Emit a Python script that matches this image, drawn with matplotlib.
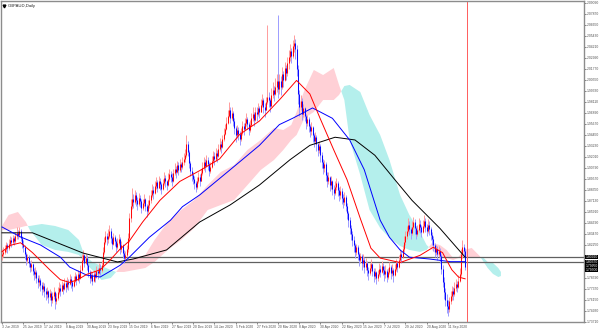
import numpy as np
import matplotlib
matplotlib.use("Agg")
from matplotlib import pyplot as plt
from matplotlib import transforms

plt.rcParams['font.family'] = ['Liberation Sans', 'DejaVu Sans']

chart_title = "GBPAUD,Daily"

# daily bars, bar 0 = 3 Jun 2019
first_open = 1.810
closes = [
    1.812, 1.815, 1.818, 1.822, 1.819, 1.824, 1.828, 1.826, 1.830, 1.827, 1.832, 1.836, 1.834, 1.838, 1.830, 1.824,
    1.820, 1.812, 1.806, 1.809, 1.803, 1.798, 1.801, 1.794, 1.790, 1.793, 1.786, 1.781, 1.784, 1.778, 1.774, 1.777,
    1.772, 1.768, 1.771, 1.765, 1.769, 1.762, 1.766, 1.770, 1.760, 1.764, 1.770, 1.775, 1.772, 1.778, 1.774, 1.780,
    1.776, 1.782, 1.779, 1.785, 1.781, 1.777, 1.783, 1.788, 1.784, 1.790, 1.786, 1.795, 1.806, 1.811, 1.803, 1.808,
    1.800, 1.792, 1.786, 1.789, 1.783, 1.790, 1.787, 1.794, 1.791, 1.797, 1.795, 1.800, 1.815, 1.826, 1.832, 1.829,
    1.833, 1.838, 1.830, 1.824, 1.831, 1.827, 1.820, 1.825, 1.829, 1.818, 1.822, 1.814, 1.808, 1.811, 1.818, 1.830,
    1.852, 1.866, 1.874, 1.870, 1.878, 1.872, 1.868, 1.875, 1.871, 1.864, 1.869, 1.873, 1.866, 1.860, 1.867, 1.872,
    1.878, 1.884, 1.880, 1.888, 1.892, 1.886, 1.894, 1.890, 1.885, 1.891, 1.897, 1.893, 1.889, 1.896, 1.901, 1.898,
    1.894, 1.902, 1.907, 1.903, 1.911, 1.906, 1.912, 1.909, 1.915, 1.918, 1.922, 1.934, 1.926, 1.913, 1.905, 1.900,
    1.896, 1.891, 1.887, 1.893, 1.898, 1.894, 1.902, 1.908, 1.914, 1.910, 1.917, 1.912, 1.905, 1.909, 1.916, 1.921,
    1.918, 1.925, 1.921, 1.929, 1.935, 1.931, 1.940, 1.946, 1.951, 1.958, 1.966, 1.972, 1.963, 1.969, 1.960, 1.952,
    1.944, 1.950, 1.946, 1.940, 1.947, 1.955, 1.951, 1.958, 1.962, 1.957, 1.950, 1.956, 1.963, 1.968, 1.961, 1.970,
    1.968, 1.974, 1.970, 1.978, 1.983, 1.976, 1.972, 1.981, 1.987, 1.983, 1.977, 1.989, 1.994, 1.990, 1.998, 2.004,
    1.995, 2.004, 1.998, 2.012, 2.006, 2.019, 2.013, 2.024, 2.031, 2.038, 2.032, 2.043, 2.047, 2.040, 2.018, 1.990,
    1.975, 1.982, 1.968, 1.974, 1.966, 1.958, 1.962, 1.955, 1.949, 1.953, 1.944, 1.938, 1.942, 1.934, 1.928, 1.932,
    1.922, 1.915, 1.908, 1.912, 1.900, 1.894, 1.898, 1.889, 1.893, 1.885, 1.880, 1.887, 1.891, 1.884, 1.878, 1.882,
    1.875, 1.870, 1.876, 1.866, 1.858, 1.850, 1.841, 1.835, 1.828, 1.822, 1.815, 1.820, 1.812, 1.806, 1.810, 1.802,
    1.806, 1.798, 1.803, 1.795, 1.791, 1.797, 1.801, 1.794, 1.788, 1.792, 1.786, 1.790, 1.796, 1.793, 1.799, 1.795,
    1.790, 1.794, 1.787, 1.792, 1.798, 1.791, 1.795, 1.789, 1.796, 1.802, 1.798, 1.806, 1.812, 1.809, 1.818, 1.826,
    1.832, 1.838, 1.845, 1.840, 1.836, 1.843, 1.848, 1.841, 1.835, 1.839, 1.846, 1.842, 1.837, 1.844, 1.849, 1.843,
    1.838, 1.845, 1.840, 1.834, 1.829, 1.822, 1.815, 1.818, 1.812, 1.816, 1.810, 1.796, 1.782, 1.770, 1.762, 1.755,
    1.752, 1.760, 1.766, 1.771, 1.768, 1.775, 1.779, 1.776, 1.783, 1.790, 1.812, 1.820, 1.816, 1.798,
]
highs = [
    1.818, 1.820, 1.823, 1.826, 1.825, 1.829, 1.833, 1.831, 1.834, 1.833, 1.837, 1.842, 1.839, 1.843, 1.840, 1.833,
    1.828, 1.823, 1.815, 1.813, 1.811, 1.805, 1.806, 1.803, 1.797, 1.798, 1.795, 1.789, 1.789, 1.786, 1.781, 1.782,
    1.780, 1.775, 1.776, 1.773, 1.774, 1.771, 1.770, 1.776, 1.772, 1.769, 1.776, 1.781, 1.779, 1.783, 1.780, 1.786,
    1.784, 1.787, 1.785, 1.790, 1.788, 1.784, 1.788, 1.793, 1.790, 1.795, 1.792, 1.800, 1.812, 1.817, 1.812, 1.813,
    1.811, 1.803, 1.795, 1.794, 1.792, 1.795, 1.794, 1.799, 1.797, 1.802, 1.801, 1.806, 1.820, 1.831, 1.838, 1.836,
    1.840, 1.845, 1.841, 1.832, 1.836, 1.834, 1.829, 1.830, 1.835, 1.831, 1.827, 1.824, 1.817, 1.816, 1.823, 1.836,
    1.858, 1.873, 1.886, 1.879, 1.884, 1.881, 1.876, 1.880, 1.878, 1.874, 1.874, 1.879, 1.875, 1.868, 1.872, 1.878,
    1.884, 1.890, 1.888, 1.893, 1.898, 1.895, 1.899, 1.897, 1.892, 1.896, 1.903, 1.900, 1.895, 1.902, 1.907, 1.905,
    1.902, 1.907, 1.913, 1.910, 1.916, 1.914, 1.918, 1.915, 1.920, 1.924, 1.929, 1.945, 1.938, 1.928, 1.916, 1.909,
    1.904, 1.899, 1.894, 1.898, 1.904, 1.901, 1.907, 1.914, 1.920, 1.918, 1.922, 1.920, 1.914, 1.914, 1.921, 1.927,
    1.926, 1.930, 1.928, 1.934, 1.941, 1.938, 1.945, 1.952, 1.957, 1.964, 1.972, 1.981, 1.976, 1.975, 1.971, 1.963,
    1.955, 1.956, 1.953, 1.949, 1.952, 1.960, 1.958, 1.963, 1.969, 1.965, 1.959, 1.961, 1.969, 1.975, 1.970, 1.976,
    1.975, 1.980, 1.977, 1.984, 1.990, 1.986, 1.980, 1.987, 2.066, 1.992, 1.986, 1.997, 2.003, 1.999, 2.008, 2.012,
    2.078, 2.012, 2.010, 2.020, 2.016, 2.026, 2.022, 2.031, 2.039, 2.045, 2.041, 2.050, 2.055, 2.051, 2.044, 2.022,
    1.994, 1.989, 1.985, 1.979, 1.976, 1.968, 1.967, 1.964, 1.957, 1.959, 1.955, 1.947, 1.948, 1.944, 1.937, 1.938,
    1.935, 1.926, 1.918, 1.917, 1.914, 1.903, 1.904, 1.899, 1.899, 1.895, 1.889, 1.893, 1.897, 1.894, 1.887, 1.888,
    1.886, 1.879, 1.881, 1.878, 1.869, 1.860, 1.853, 1.845, 1.838, 1.832, 1.825, 1.824, 1.822, 1.815, 1.814, 1.812,
    1.813, 1.809, 1.808, 1.805, 1.798, 1.802, 1.807, 1.803, 1.797, 1.797, 1.794, 1.795, 1.802, 1.800, 1.805, 1.802,
    1.799, 1.800, 1.796, 1.797, 1.804, 1.800, 1.801, 1.797, 1.801, 1.807, 1.805, 1.811, 1.818, 1.816, 1.823, 1.832,
    1.838, 1.844, 1.852, 1.849, 1.843, 1.849, 1.854, 1.851, 1.844, 1.845, 1.852, 1.850, 1.845, 1.850, 1.856, 1.852,
    1.846, 1.851, 1.849, 1.843, 1.837, 1.833, 1.825, 1.823, 1.821, 1.821, 1.819, 1.813, 1.800, 1.787, 1.775, 1.768,
    1.762, 1.765, 1.772, 1.777, 1.776, 1.781, 1.785, 1.783, 1.789, 1.797, 1.818, 1.828, 1.824, 1.819,
]
lows = [
    1.806, 1.809, 1.812, 1.815, 1.814, 1.817, 1.821, 1.820, 1.824, 1.822, 1.825, 1.829, 1.829, 1.831, 1.827, 1.819,
    1.815, 1.807, 1.800, 1.802, 1.798, 1.792, 1.794, 1.789, 1.784, 1.786, 1.780, 1.775, 1.777, 1.772, 1.767, 1.770,
    1.765, 1.761, 1.764, 1.758, 1.762, 1.755, 1.758, 1.763, 1.752, 1.757, 1.762, 1.768, 1.766, 1.771, 1.768, 1.773,
    1.770, 1.774, 1.773, 1.778, 1.775, 1.771, 1.776, 1.782, 1.778, 1.783, 1.780, 1.785, 1.794, 1.804, 1.798, 1.801,
    1.795, 1.787, 1.780, 1.783, 1.778, 1.782, 1.781, 1.786, 1.785, 1.790, 1.789, 1.793, 1.798, 1.813, 1.824, 1.822,
    1.825, 1.830, 1.825, 1.818, 1.822, 1.821, 1.815, 1.818, 1.822, 1.813, 1.815, 1.808, 1.802, 1.805, 1.809, 1.815,
    1.826, 1.848, 1.862, 1.864, 1.868, 1.866, 1.861, 1.866, 1.865, 1.858, 1.861, 1.866, 1.860, 1.854, 1.858, 1.864,
    1.869, 1.876, 1.874, 1.879, 1.885, 1.881, 1.886, 1.884, 1.879, 1.884, 1.889, 1.887, 1.883, 1.888, 1.894, 1.892,
    1.888, 1.892, 1.900, 1.897, 1.902, 1.900, 1.904, 1.903, 1.907, 1.911, 1.915, 1.920, 1.921, 1.908, 1.899, 1.893,
    1.890, 1.885, 1.881, 1.885, 1.891, 1.888, 1.893, 1.900, 1.906, 1.904, 1.909, 1.906, 1.899, 1.902, 1.908, 1.913,
    1.911, 1.916, 1.915, 1.920, 1.927, 1.925, 1.930, 1.938, 1.944, 1.950, 1.957, 1.964, 1.958, 1.961, 1.955, 1.946,
    1.937, 1.941, 1.939, 1.933, 1.938, 1.945, 1.944, 1.950, 1.954, 1.951, 1.944, 1.948, 1.954, 1.960, 1.955, 1.960,
    1.960, 1.966, 1.963, 1.970, 1.975, 1.969, 1.965, 1.972, 1.979, 1.975, 1.970, 1.978, 1.986, 1.982, 1.989, 1.992,
    1.985, 1.990, 1.989, 1.996, 1.998, 2.004, 2.005, 2.010, 2.018, 2.027, 2.024, 2.030, 2.037, 2.029, 2.010, 1.979,
    1.966, 1.972, 1.961, 1.965, 1.960, 1.951, 1.954, 1.948, 1.942, 1.945, 1.937, 1.931, 1.934, 1.927, 1.921, 1.924,
    1.915, 1.908, 1.901, 1.904, 1.894, 1.887, 1.890, 1.882, 1.885, 1.878, 1.873, 1.878, 1.884, 1.877, 1.871, 1.874,
    1.868, 1.863, 1.867, 1.860, 1.851, 1.843, 1.835, 1.828, 1.821, 1.815, 1.808, 1.811, 1.806, 1.799, 1.802, 1.795,
    1.798, 1.791, 1.795, 1.788, 1.784, 1.789, 1.794, 1.788, 1.781, 1.785, 1.779, 1.783, 1.788, 1.787, 1.791, 1.789,
    1.783, 1.786, 1.781, 1.785, 1.790, 1.785, 1.788, 1.782, 1.788, 1.794, 1.792, 1.797, 1.804, 1.803, 1.808, 1.815,
    1.823, 1.829, 1.836, 1.834, 1.829, 1.834, 1.840, 1.835, 1.829, 1.832, 1.837, 1.836, 1.831, 1.836, 1.841, 1.837,
    1.832, 1.836, 1.834, 1.828, 1.822, 1.816, 1.809, 1.811, 1.806, 1.809, 1.803, 1.790, 1.776, 1.763, 1.755, 1.747,
    1.744, 1.748, 1.757, 1.762, 1.761, 1.766, 1.771, 1.770, 1.775, 1.781, 1.788, 1.808, 1.809, 1.795,
]

# moving averages (bar index, price)
fast_ma_bars = [0, 6, 14, 23, 36, 44, 51, 57, 64, 74, 81, 89, 96, 106, 119, 134, 149, 164, 179, 194,
                210, 222, 232, 240, 250, 260, 270, 278, 285, 300, 315, 325, 332, 339, 344, 349]
fast_ma = [1.815, 1.822, 1.825, 1.814, 1.795, 1.784, 1.781, 1.784, 1.790, 1.795, 1.805, 1.818, 1.827,
           1.848, 1.872, 1.893, 1.905, 1.918, 1.945, 1.960, 1.985, 2.005, 1.990, 1.962, 1.928, 1.895,
           1.852, 1.819, 1.808, 1.803, 1.811, 1.820, 1.814, 1.795, 1.787, 1.785]
mid_ma_bars = [0, 14, 29, 44, 51, 64, 74, 81, 89, 96, 111, 127, 136, 149, 172, 194, 209, 219, 234, 249,
               262, 273, 285, 292, 300, 307, 322, 338, 349]
mid_ma = [1.8425, 1.8314, 1.8225, 1.809, 1.798, 1.789, 1.787, 1.793, 1.800, 1.809, 1.831, 1.850, 1.865,
          1.878, 1.906, 1.933, 1.956, 1.963, 1.9745, 1.963, 1.939, 1.906, 1.850, 1.831, 1.817, 1.809,
          1.807, 1.804, 1.804]
slow_ma_bars = [0, 23, 61, 87, 99, 124, 149, 172, 194, 217, 232, 251, 266, 281, 296, 309, 330, 349]
slow_ma = [1.836, 1.836, 1.8136, 1.8037, 1.807, 1.817, 1.848, 1.867, 1.889, 1.917, 1.933, 1.942, 1.939,
           1.922, 1.895, 1.872, 1.841, 1.809]

# ichimoku cloud edges (bar index, span A, span B)
cloud_bars = [0, 5, 12, 18, 21, 30, 40, 50, 58, 62, 68, 75, 82, 86, 92, 100, 108, 115, 125, 135, 145,
              155, 165, 175, 185, 195, 205, 212, 218, 222, 228, 235, 242, 250, 254, 258, 262, 270, 277,
              285, 292, 300, 307, 315, 320, 324, 330, 335, 340, 344, 348, 354, 360, 363, 366, 370, 374, 376]
span_a = [1.8436, 1.8558, 1.8591, 1.8480, 1.8391, 1.8225, 1.8170, 1.8148, 1.8114, 1.8037, 1.7948, 1.7837,
          1.7859, 1.7926, 1.8037, 1.8081, 1.8114, 1.8281, 1.8480, 1.8613, 1.8724, 1.8890, 1.9035, 1.9112,
          1.9279, 1.9390, 1.9523, 1.9500, 1.9556, 1.9700, 1.9944, 2.0166, 2.0110, 2.0188, 2.0000, 1.9833,
          1.9390, 1.9001, 1.8613, 1.8414, 1.8303, 1.8214, 1.8170, 1.8148, 1.8170, 1.8247, 1.8225, 1.8170,
          1.8081, 1.8092, 1.8170, 1.8192, 1.8103, 1.8037, 1.7970, 1.7904, 1.7870, 1.7881]
span_b = [1.8391, 1.8391, 1.8414, 1.8436, 1.8436, 1.8458, 1.8436, 1.8391, 1.8281, 1.8114, 1.8037, 1.7992,
          1.7948, 1.7926, 1.7926, 1.7948, 1.7970, 1.8037, 1.8170, 1.8281, 1.8414, 1.8613, 1.8669, 1.8724,
          1.8890, 1.9057, 1.9168, 1.9279, 1.9390, 1.9445, 1.9634, 1.9700, 1.9833, 1.9833, 1.9889, 1.9988,
          2.0000, 1.9922, 1.9667, 1.9445, 1.9168, 1.8780, 1.8558, 1.8369, 1.8225, 1.8170, 1.8092, 1.8081,
          1.8059, 1.8081, 1.8081, 1.8092, 1.8092, 1.8081, 1.8037, 1.8026, 1.7970, 1.7926]

level_lines = [1.8092, 1.8037]
price_tags = ["1.80920", "1.80370", "1.79950", "1.79500"]
price_tag_values = [1.8092, 1.8037, 1.7995, 1.7950]
last_bar_marker = 350.5

x_tick_labels = ["3 Jun 2019", "25 Jun 2019", "17 Jul 2019", "8 Aug 2019", "30 Aug 2019", "23 Sep 2019",
                 "15 Oct 2019", "6 Nov 2019", "27 Nov 2019", "20 Dec 2019", "14 Jan 2020", "5 Feb 2020",
                 "27 Feb 2020", "20 Mar 2020", "8 Apr 2020", "30 Apr 2020", "22 May 2020", "15 Jun 2020",
                 "7 Jul 2020", "29 Jul 2020", "20 Aug 2020", "11 Sep 2020"]
# price scale labels (the two that sit under the price tags are hidden, as on the chart)
y_ticks = [2.0909, 2.0787, 2.0665, 2.0543, 2.0421, 2.0299, 2.0177, 2.0055, 1.9933, 1.9811,
           1.9689, 1.9567, 1.9445, 1.9323, 1.9201, 1.9079, 1.8957, 1.8835, 1.8713, 1.8591,
           1.8469, 1.8347, 1.8225, 1.7859, 1.7737, 1.7615, 1.7493, 1.7371]


if __name__ == '__main__':
    fig = plt.figure(figsize=(6.0, 3.29), dpi=100)
    ax = fig.add_axes([1 / 600, 7 / 329, 583 / 600, 321 / 329])

    # cloud
    a = np.array(span_a)
    b = np.array(span_b)
    ax.fill_between(cloud_bars, a, b, where=a >= b, interpolate=True,
                    color='#ffd0d6', lw=0, zorder=1)
    ax.fill_between(cloud_bars, a, b, where=a < b, interpolate=True,
                    color='#b4efec', lw=0, zorder=1)

    # horizontal levels and current bar marker
    for lvl in level_lines:
        ax.axhline(lvl, color='#606060', lw=0.9, zorder=2)
    ax.axvline(last_bar_marker, color='#ff5c5c', lw=0.7, zorder=2)

    # candles
    c = np.array(closes)
    o = np.r_[first_open, c[:-1]]
    hi = np.maximum(np.array(highs), np.maximum(o, c))
    lo = np.minimum(np.array(lows), np.minimum(o, c))
    idx = np.arange(len(c))
    up = c >= o
    ax.vlines(idx[up], lo[up], hi[up], color='#ff9c9c', lw=0.7, zorder=3)
    ax.vlines(idx[~up], lo[~up], hi[~up], color='#9c9cff', lw=0.7, zorder=3)
    ax.vlines(idx[up], o[up], c[up], color='#ff0a0a', lw=0.75, zorder=4)
    ax.vlines(idx[~up], c[~up], o[~up], color='#0a0aff', lw=0.75, zorder=4)

    # moving averages
    ax.plot(slow_ma_bars, slow_ma, color='#000000', lw=0.7, zorder=5)
    ax.plot(mid_ma_bars, mid_ma, color='#0000ff', lw=0.7, zorder=5)
    ax.plot(fast_ma_bars, fast_ma, color='#ff0000', lw=0.7, zorder=5)

    ax.set_xlim(-0.75, 438.6)
    ax.set_ylim(1.7371, 2.0931)

    ax.set_xticks(np.arange(len(x_tick_labels)) * 16)
    ax.set_xticklabels(x_tick_labels, ha='left')
    ax.yaxis.tick_right()
    ax.set_yticks(y_ticks)
    ax.set_yticklabels(['%.5f' % v for v in y_ticks])
    ax.tick_params(axis='both', labelsize=2.4, colors='#505050', length=1.5, width=0.5,
                   direction='out', pad=0.6)
    for s in ax.spines.values():
        s.set_color('#8c8c8c')
        s.set_linewidth(1.0)

    # price tags on the right scale
    trans = transforms.blended_transform_factory(ax.transAxes, ax.transData)
    for txt, val in zip(price_tags, price_tag_values):
        ax.text(1.003, val, txt, transform=trans, fontsize=2.4, color='white', va='center',
                ha='left', bbox=dict(boxstyle='square,pad=0.08', fc='black', ec='none'),
                clip_on=False, zorder=6)

    # title
    ax.plot([0.005], [0.985], marker='v', ms=2.0, color='black', transform=ax.transAxes,
            clip_on=False)
    ax.text(0.011, 0.985, chart_title, transform=ax.transAxes, fontsize=3.0, color='#202020',
            va='center', ha='left')

    fig.savefig('out.png', dpi=100)
